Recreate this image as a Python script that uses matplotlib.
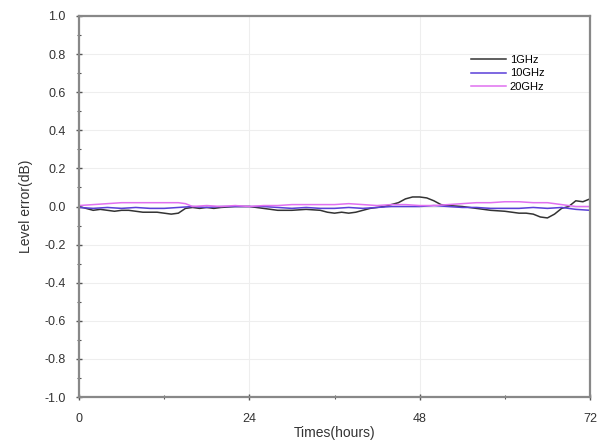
import matplotlib.pyplot as plt
from matplotlib.ticker import MultipleLocator

plt.rcParams['font.family'] = ['Liberation Sans', 'DejaVu Sans']

# hours and level error (dB)
hours_1g = [0, 1, 2, 3, 4, 5, 6, 7, 8, 9, 10, 11, 12, 13, 14, 15, 16, 17, 18, 19, 20,
            22, 24, 26, 28, 30, 32, 34, 35, 36, 37, 38, 39, 40, 41, 42, 43, 44, 45,
            46, 47, 48, 49, 50, 51, 52, 54, 56, 58, 60, 61, 62, 63, 64, 65, 66, 67,
            68, 69, 70, 71, 72]
err_1g = [0.0, -0.01, -0.02, -0.015, -0.02, -0.025, -0.02, -0.02, -0.025, -0.03, -0.03,
          -0.03, -0.035, -0.04, -0.035, -0.01, -0.005, -0.01, -0.005, -0.01, -0.005,
          0.0, 0.0, -0.01, -0.02, -0.02, -0.015, -0.02, -0.03, -0.035, -0.03, -0.035,
          -0.03, -0.02, -0.01, -0.005, 0.0, 0.01, 0.02, 0.04, 0.05, 0.05, 0.045,
          0.03, 0.01, 0.005, 0.0, -0.01, -0.02, -0.025, -0.03, -0.035, -0.035, -0.04,
          -0.055, -0.06, -0.04, -0.01, 0.0, 0.03, 0.025, 0.04]

hours_10g = [0, 2, 4, 6, 8, 10, 12, 14, 16, 18, 20, 22, 24, 26, 28, 30, 32, 34, 36,
             38, 40, 42, 44, 46, 48, 50, 52, 54, 56, 58, 60, 62, 64, 66, 68, 70, 72]
err_10g = [-0.005, -0.01, -0.005, -0.01, -0.005, -0.01, -0.01, -0.005, 0.0, -0.005,
           0.0, 0.0, 0.0, 0.0, -0.005, -0.01, -0.005, -0.01, -0.01, -0.005, -0.01,
           -0.005, 0.0, 0.0, 0.0, 0.005, 0.0, -0.005, -0.005, -0.01, -0.01, -0.01,
           -0.005, -0.01, -0.005, -0.015, -0.02]

hours_20g = [0, 2, 4, 6, 8, 10, 12, 14, 15, 16, 18, 20, 22, 24, 26, 28, 30, 32, 34,
             36, 38, 40, 42, 44, 46, 48, 50, 52, 54, 56, 58, 60, 62, 64, 66, 68, 70, 72]
err_20g = [0.005, 0.01, 0.015, 0.02, 0.02, 0.02, 0.02, 0.02, 0.015, 0.0, 0.005, 0.0,
           0.005, 0.0, 0.005, 0.005, 0.01, 0.01, 0.01, 0.01, 0.015, 0.01, 0.005, 0.01,
           0.01, 0.005, 0.005, 0.01, 0.015, 0.02, 0.02, 0.025, 0.025, 0.02, 0.02,
           0.01, 0.0, 0.0]

fig = plt.figure(figsize=(6.04, 4.41), dpi=100)
ax = fig.add_axes([79 / 604, 44 / 441, 511 / 604, 381 / 441])

ax.plot(hours_1g, err_1g, color='#333333', lw=1.1, label='1GHz')
ax.plot(hours_10g, err_10g, color='#5a3fd8', lw=1.1, label='10GHz')
ax.plot(hours_20g, err_20g, color='#e070f0', lw=1.1, label='20GHz')

ax.set_xlim(0, 72)
ax.set_ylim(-1.0, 1.0)
ax.xaxis.set_major_locator(MultipleLocator(24))
ax.xaxis.set_minor_locator(MultipleLocator(12))
ax.yaxis.set_major_locator(MultipleLocator(0.2))
ax.yaxis.set_minor_locator(MultipleLocator(0.1))
ax.yaxis.set_major_formatter(plt.FormatStrFormatter('%.1f'))

ax.tick_params(which='both', direction='inout', colors='#555555', labelsize=9)
ax.tick_params(which='major', length=5, width=1)
ax.tick_params(which='minor', length=3, width=0.8)
ax.tick_params(labelcolor='#333333')
ax.tick_params(axis='x', which='major', pad=9)
ax.tick_params(axis='y', which='major', pad=7)

ax.grid(True, which='major', color='#eeeeee', lw=0.8)
ax.set_axisbelow(True)

for side in ['left', 'bottom', 'top', 'right']:
    ax.spines[side].set_color('#888888')
    ax.spines[side].set_linewidth(1.6)

ax.set_xlabel('Times(hours)', fontsize=10, color='#333333', labelpad=1)
ax.set_ylabel('Level error(dB)', fontsize=10, color='#333333', labelpad=8)

ax.legend(loc='upper right', bbox_to_anchor=(0.93, 0.925), frameon=False,
          fontsize=8, handlelength=3.2, labelspacing=0.35, handletextpad=0.3)

fig.savefig('out.png', dpi=100, facecolor='white')
